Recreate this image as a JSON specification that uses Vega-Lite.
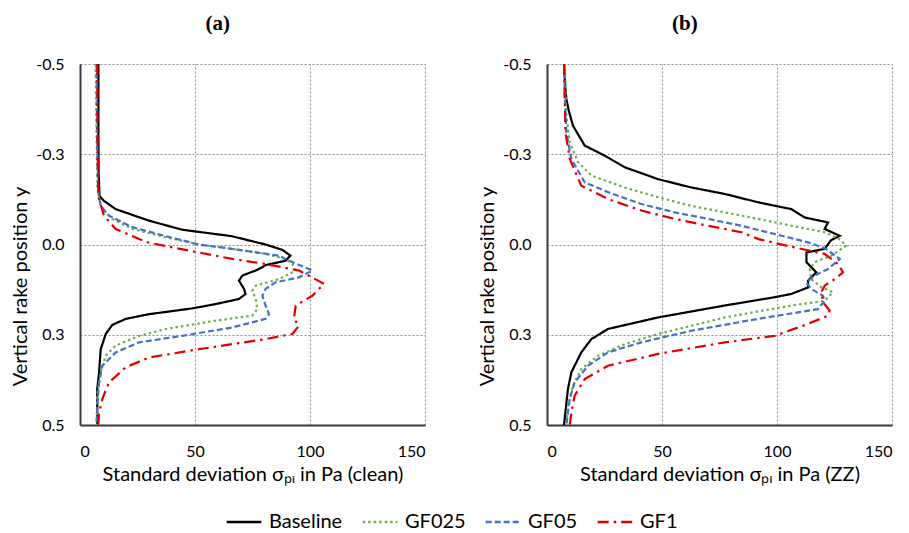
{
  "$schema": "https://vega.github.io/schema/vega-lite/v6.json",
  "padding": {"left": 10, "top": 13, "right": 5, "bottom": 5},
  "datasets": {
    "d": [
      {"p":"a","s":"Baseline","y":-0.5,"v":8},{"p":"a","s":"Baseline","y":-0.3,"v":8},{"p":"a","s":"Baseline","y":-0.2,"v":8.1},{"p":"a","s":"Baseline","y":-0.134,"v":8.5},{"p":"a","s":"Baseline","y":-0.121,"v":10.4},{"p":"a","s":"Baseline","y":-0.098,"v":15.5},{"p":"a","s":"Baseline","y":-0.066,"v":30},{"p":"a","s":"Baseline","y":-0.041,"v":44.4},{"p":"a","s":"Baseline","y":-0.023,"v":66},{"p":"a","s":"Baseline","y":0.0,"v":80.7},{"p":"a","s":"Baseline","y":0.015,"v":88},{"p":"a","s":"Baseline","y":0.031,"v":91.5},{"p":"a","s":"Baseline","y":0.045,"v":89.4},{"p":"a","s":"Baseline","y":0.057,"v":80.7},{"p":"a","s":"Baseline","y":0.063,"v":79.2},{"p":"a","s":"Baseline","y":0.072,"v":76.4},{"p":"a","s":"Baseline","y":0.086,"v":70.6},{"p":"a","s":"Baseline","y":0.1,"v":69.1},{"p":"a","s":"Baseline","y":0.123,"v":71.3},{"p":"a","s":"Baseline","y":0.137,"v":72},{"p":"a","s":"Baseline","y":0.151,"v":69.1},{"p":"a","s":"Baseline","y":0.165,"v":59},{"p":"a","s":"Baseline","y":0.177,"v":48.8},{"p":"a","s":"Baseline","y":0.193,"v":30},{"p":"a","s":"Baseline","y":0.206,"v":19.9},{"p":"a","s":"Baseline","y":0.223,"v":14},{"p":"a","s":"Baseline","y":0.248,"v":11.2},{"p":"a","s":"Baseline","y":0.29,"v":9},{"p":"a","s":"Baseline","y":0.354,"v":8.3},{"p":"a","s":"Baseline","y":0.4,"v":7.5},{"p":"a","s":"Baseline","y":0.5,"v":7.5},

      {"p":"a","s":"GF025","y":-0.5,"v":6.8},{"p":"a","s":"GF025","y":-0.3,"v":7.2},{"p":"a","s":"GF025","y":-0.16,"v":7.6},{"p":"a","s":"GF025","y":-0.126,"v":8.3},{"p":"a","s":"GF025","y":-0.098,"v":9.7},{"p":"a","s":"GF025","y":-0.071,"v":14},{"p":"a","s":"GF025","y":-0.043,"v":22.7},{"p":"a","s":"GF025","y":-0.02,"v":37.3},{"p":"a","s":"GF025","y":0.0,"v":51.7},{"p":"a","s":"GF025","y":0.012,"v":66.2},{"p":"a","s":"GF025","y":0.026,"v":80.7},{"p":"a","s":"GF025","y":0.04,"v":89.4},{"p":"a","s":"GF025","y":0.054,"v":92.3},{"p":"a","s":"GF025","y":0.072,"v":93.8},{"p":"a","s":"GF025","y":0.096,"v":86.5},{"p":"a","s":"GF025","y":0.114,"v":76.4},{"p":"a","s":"GF025","y":0.128,"v":74.9},{"p":"a","s":"GF025","y":0.151,"v":76.4},{"p":"a","s":"GF025","y":0.179,"v":77.1},{"p":"a","s":"GF025","y":0.197,"v":74.9},{"p":"a","s":"GF025","y":0.211,"v":59},{"p":"a","s":"GF025","y":0.234,"v":37.3},{"p":"a","s":"GF025","y":0.253,"v":25.7},{"p":"a","s":"GF025","y":0.28,"v":15.5},{"p":"a","s":"GF025","y":0.308,"v":11.2},{"p":"a","s":"GF025","y":0.354,"v":9},{"p":"a","s":"GF025","y":0.419,"v":7.5},{"p":"a","s":"GF025","y":0.5,"v":7.2},

      {"p":"a","s":"GF05","y":-0.5,"v":7.2},{"p":"a","s":"GF05","y":-0.3,"v":7.4},{"p":"a","s":"GF05","y":-0.15,"v":7.8},{"p":"a","s":"GF05","y":-0.107,"v":9},{"p":"a","s":"GF05","y":-0.08,"v":12.6},{"p":"a","s":"GF05","y":-0.048,"v":22.7},{"p":"a","s":"GF05","y":-0.023,"v":37.3},{"p":"a","s":"GF05","y":0.0,"v":51.7},{"p":"a","s":"GF05","y":0.012,"v":66},{"p":"a","s":"GF05","y":0.031,"v":86.5},{"p":"a","s":"GF05","y":0.045,"v":90.9},{"p":"a","s":"GF05","y":0.072,"v":101},{"p":"a","s":"GF05","y":0.091,"v":95.2},{"p":"a","s":"GF05","y":0.105,"v":85},{"p":"a","s":"GF05","y":0.123,"v":80.7},{"p":"a","s":"GF05","y":0.142,"v":79.3},{"p":"a","s":"GF05","y":0.169,"v":80.7},{"p":"a","s":"GF05","y":0.193,"v":82.2},{"p":"a","s":"GF05","y":0.206,"v":80.7},{"p":"a","s":"GF05","y":0.23,"v":66},{"p":"a","s":"GF05","y":0.253,"v":44.5},{"p":"a","s":"GF05","y":0.271,"v":25.7},{"p":"a","s":"GF05","y":0.299,"v":15.5},{"p":"a","s":"GF05","y":0.336,"v":9.7},{"p":"a","s":"GF05","y":0.382,"v":8.3},{"p":"a","s":"GF05","y":0.446,"v":7.5},{"p":"a","s":"GF05","y":0.5,"v":7.2},

      {"p":"a","s":"GF1","y":-0.5,"v":7.5},{"p":"a","s":"GF1","y":-0.3,"v":7.6},{"p":"a","s":"GF1","y":-0.16,"v":7.9},{"p":"a","s":"GF1","y":-0.126,"v":8.3},{"p":"a","s":"GF1","y":-0.08,"v":10.4},{"p":"a","s":"GF1","y":-0.043,"v":15.5},{"p":"a","s":"GF1","y":-0.015,"v":25.7},{"p":"a","s":"GF1","y":-0.005,"v":30},{"p":"a","s":"GF1","y":0.008,"v":40.1},{"p":"a","s":"GF1","y":0.04,"v":66.2},{"p":"a","s":"GF1","y":0.054,"v":80.7},{"p":"a","s":"GF1","y":0.072,"v":95.2},{"p":"a","s":"GF1","y":0.109,"v":106.1},{"p":"a","s":"GF1","y":0.142,"v":101},{"p":"a","s":"GF1","y":0.169,"v":93.8},{"p":"a","s":"GF1","y":0.206,"v":93},{"p":"a","s":"GF1","y":0.225,"v":95.2},{"p":"a","s":"GF1","y":0.248,"v":92.3},{"p":"a","s":"GF1","y":0.262,"v":80.7},{"p":"a","s":"GF1","y":0.29,"v":51.7},{"p":"a","s":"GF1","y":0.313,"v":30},{"p":"a","s":"GF1","y":0.34,"v":19.9},{"p":"a","s":"GF1","y":0.382,"v":12.6},{"p":"a","s":"GF1","y":0.428,"v":9.7},{"p":"a","s":"GF1","y":0.465,"v":8.3},{"p":"a","s":"GF1","y":0.5,"v":8},

      {"p":"b","s":"Baseline","y":-0.5,"v":7.4},{"p":"b","s":"Baseline","y":-0.45,"v":7.8},{"p":"b","s":"Baseline","y":-0.403,"v":8.4},{"p":"b","s":"Baseline","y":-0.37,"v":9.5},{"p":"b","s":"Baseline","y":-0.329,"v":11.3},{"p":"b","s":"Baseline","y":-0.274,"v":16.4},{"p":"b","s":"Baseline","y":-0.246,"v":25.1},{"p":"b","s":"Baseline","y":-0.214,"v":33.8},{"p":"b","s":"Baseline","y":-0.181,"v":48.3},{"p":"b","s":"Baseline","y":-0.158,"v":62.7},{"p":"b","s":"Baseline","y":-0.14,"v":77.3},{"p":"b","s":"Baseline","y":-0.117,"v":91.7},{"p":"b","s":"Baseline","y":-0.098,"v":106.2},{"p":"b","s":"Baseline","y":-0.075,"v":112},{"p":"b","s":"Baseline","y":-0.061,"v":122.2},{"p":"b","s":"Baseline","y":-0.043,"v":120.7},{"p":"b","s":"Baseline","y":-0.024,"v":127.3},{"p":"b","s":"Baseline","y":-0.012,"v":123.5},{"p":"b","s":"Baseline","y":0.012,"v":120.7},{"p":"b","s":"Baseline","y":0.022,"v":112.8},{"p":"b","s":"Baseline","y":0.049,"v":112.8},{"p":"b","s":"Baseline","y":0.063,"v":114.9},{"p":"b","s":"Baseline","y":0.077,"v":117.1},{"p":"b","s":"Baseline","y":0.1,"v":113.5},{"p":"b","s":"Baseline","y":0.119,"v":113.5},{"p":"b","s":"Baseline","y":0.137,"v":106.2},{"p":"b","s":"Baseline","y":0.146,"v":99},{"p":"b","s":"Baseline","y":0.169,"v":77.3},{"p":"b","s":"Baseline","y":0.202,"v":48.3},{"p":"b","s":"Baseline","y":0.234,"v":26.5},{"p":"b","s":"Baseline","y":0.262,"v":19.3},{"p":"b","s":"Baseline","y":0.299,"v":14.9},{"p":"b","s":"Baseline","y":0.354,"v":10.6},{"p":"b","s":"Baseline","y":0.4,"v":9.1},{"p":"b","s":"Baseline","y":0.5,"v":7.4},

      {"p":"b","s":"GF025","y":-0.5,"v":7.8},{"p":"b","s":"GF025","y":-0.42,"v":8.1},{"p":"b","s":"GF025","y":-0.357,"v":8.4},{"p":"b","s":"GF025","y":-0.283,"v":9.9},{"p":"b","s":"GF025","y":-0.228,"v":13.5},{"p":"b","s":"GF025","y":-0.191,"v":19.3},{"p":"b","s":"GF025","y":-0.158,"v":33.8},{"p":"b","s":"GF025","y":-0.131,"v":48.3},{"p":"b","s":"GF025","y":-0.107,"v":62.7},{"p":"b","s":"GF025","y":-0.089,"v":77.3},{"p":"b","s":"GF025","y":-0.071,"v":91.7},{"p":"b","s":"GF025","y":-0.052,"v":106.2},{"p":"b","s":"GF025","y":-0.034,"v":120.7},{"p":"b","s":"GF025","y":-0.015,"v":127},{"p":"b","s":"GF025","y":0.003,"v":130.1},{"p":"b","s":"GF025","y":0.031,"v":123.6},{"p":"b","s":"GF025","y":0.049,"v":116.4},{"p":"b","s":"GF025","y":0.068,"v":114.2},{"p":"b","s":"GF025","y":0.096,"v":114.9},{"p":"b","s":"GF025","y":0.119,"v":119.3},{"p":"b","s":"GF025","y":0.132,"v":124.3},{"p":"b","s":"GF025","y":0.156,"v":120.7},{"p":"b","s":"GF025","y":0.169,"v":106.2},{"p":"b","s":"GF025","y":0.202,"v":77.3},{"p":"b","s":"GF025","y":0.248,"v":48.3},{"p":"b","s":"GF025","y":0.276,"v":33.8},{"p":"b","s":"GF025","y":0.308,"v":22.2},{"p":"b","s":"GF025","y":0.345,"v":14.9},{"p":"b","s":"GF025","y":0.391,"v":11.3},{"p":"b","s":"GF025","y":0.446,"v":9.1},{"p":"b","s":"GF025","y":0.5,"v":8.4},

      {"p":"b","s":"GF05","y":-0.5,"v":7.4},{"p":"b","s":"GF05","y":-0.403,"v":7.8},{"p":"b","s":"GF05","y":-0.311,"v":8.4},{"p":"b","s":"GF05","y":-0.237,"v":10.6},{"p":"b","s":"GF05","y":-0.172,"v":16.4},{"p":"b","s":"GF05","y":-0.145,"v":26.5},{"p":"b","s":"GF05","y":-0.112,"v":41},{"p":"b","s":"GF05","y":-0.089,"v":55.5},{"p":"b","s":"GF05","y":-0.071,"v":70},{"p":"b","s":"GF05","y":-0.052,"v":84.5},{"p":"b","s":"GF05","y":-0.029,"v":99},{"p":"b","s":"GF05","y":-0.006,"v":113.5},{"p":"b","s":"GF05","y":0.01,"v":120.7},{"p":"b","s":"GF05","y":0.04,"v":127.3},{"p":"b","s":"GF05","y":0.068,"v":122.2},{"p":"b","s":"GF05","y":0.086,"v":116.4},{"p":"b","s":"GF05","y":0.105,"v":112.8},{"p":"b","s":"GF05","y":0.123,"v":114.9},{"p":"b","s":"GF05","y":0.142,"v":120},{"p":"b","s":"GF05","y":0.156,"v":120.7},{"p":"b","s":"GF05","y":0.179,"v":117.8},{"p":"b","s":"GF05","y":0.206,"v":91.7},{"p":"b","s":"GF05","y":0.239,"v":62.7},{"p":"b","s":"GF05","y":0.271,"v":41},{"p":"b","s":"GF05","y":0.299,"v":26.5},{"p":"b","s":"GF05","y":0.336,"v":17.8},{"p":"b","s":"GF05","y":0.382,"v":12},{"p":"b","s":"GF05","y":0.428,"v":9.9},{"p":"b","s":"GF05","y":0.5,"v":8.4},

      {"p":"b","s":"GF1","y":-0.5,"v":7.4},{"p":"b","s":"GF1","y":-0.311,"v":8},{"p":"b","s":"GF1","y":-0.237,"v":9.9},{"p":"b","s":"GF1","y":-0.163,"v":14.9},{"p":"b","s":"GF1","y":-0.126,"v":26.5},{"p":"b","s":"GF1","y":-0.094,"v":41},{"p":"b","s":"GF1","y":-0.071,"v":55.5},{"p":"b","s":"GF1","y":-0.052,"v":70},{"p":"b","s":"GF1","y":-0.034,"v":84.5},{"p":"b","s":"GF1","y":-0.015,"v":92},{"p":"b","s":"GF1","y":0.003,"v":104},{"p":"b","s":"GF1","y":0.026,"v":120.7},{"p":"b","s":"GF1","y":0.054,"v":126.5},{"p":"b","s":"GF1","y":0.077,"v":128.7},{"p":"b","s":"GF1","y":0.096,"v":125.1},{"p":"b","s":"GF1","y":0.114,"v":120.7},{"p":"b","s":"GF1","y":0.132,"v":119.3},{"p":"b","s":"GF1","y":0.16,"v":120},{"p":"b","s":"GF1","y":0.183,"v":122.9},{"p":"b","s":"GF1","y":0.197,"v":122.2},{"p":"b","s":"GF1","y":0.22,"v":113.5},{"p":"b","s":"GF1","y":0.253,"v":99},{"p":"b","s":"GF1","y":0.271,"v":77.3},{"p":"b","s":"GF1","y":0.303,"v":48.3},{"p":"b","s":"GF1","y":0.336,"v":26.5},{"p":"b","s":"GF1","y":0.373,"v":16.4},{"p":"b","s":"GF1","y":0.419,"v":12},{"p":"b","s":"GF1","y":0.465,"v":10.6},{"p":"b","s":"GF1","y":0.5,"v":9.9}
    ]
  },
  "data": {"name": "d"},
  "spacing": 52,
  "hconcat": [
    {
      "title": {"text": "(a)"},
      "width": 345,
      "height": 361,
      "transform": [{"filter": "datum.p == 'a'"}],
      "mark": {"type": "line", "strokeWidth": 2.2},
      "encoding": {
        "x": {"field": "v", "type": "quantitative", "scale": {"domain": [0, 150]}, "axis": {"values": [0, 50, 100, 150], "title": "Standard deviation σₚᵢ in Pa (clean)"}},
        "y": {"field": "y", "type": "quantitative", "scale": {"domain": [-0.5, 0.5], "reverse": true}, "axis": {"values": [-0.5, -0.25, 0, 0.25, 0.5], "labelExpr": "datum.value == -0.5 ? '-0.5' : datum.value == -0.25 ? '-0.3' : datum.value == 0 ? '0.0' : datum.value == 0.25 ? '0.3' : '0.5'", "title": "Vertical rake position y"}},
        "color": {"field": "s", "type": "nominal", "title": null, "scale": {"domain": ["Baseline", "GF025", "GF05", "GF1"], "range": ["#000000", "#70AD47", "#4472C4", "#E00000"]}},
        "strokeDash": {"field": "s", "type": "nominal", "title": null, "scale": {"domain": ["Baseline", "GF025", "GF05", "GF1"], "range": [[1, 0], [2.5, 3], [6, 3], [11, 5, 2.5, 5]]}},
        "order": {"field": "y", "type": "quantitative"}
      }
    },
    {
      "title": {"text": "(b)"},
      "width": 345,
      "height": 361,
      "transform": [{"filter": "datum.p == 'b'"}],
      "mark": {"type": "line", "strokeWidth": 2.2},
      "encoding": {
        "x": {"field": "v", "type": "quantitative", "scale": {"domain": [0, 150]}, "axis": {"values": [0, 50, 100, 150], "title": "Standard deviation σₚᵢ in Pa (ZZ)"}},
        "y": {"field": "y", "type": "quantitative", "scale": {"domain": [-0.5, 0.5], "reverse": true}, "axis": {"values": [-0.5, -0.25, 0, 0.25, 0.5], "labelExpr": "datum.value == -0.5 ? '-0.5' : datum.value == -0.25 ? '-0.3' : datum.value == 0 ? '0.0' : datum.value == 0.25 ? '0.3' : '0.5'", "title": "Vertical rake position y"}},
        "color": {"field": "s", "type": "nominal", "title": null, "scale": {"domain": ["Baseline", "GF025", "GF05", "GF1"], "range": ["#000000", "#70AD47", "#4472C4", "#E00000"]}},
        "strokeDash": {"field": "s", "type": "nominal", "title": null, "scale": {"domain": ["Baseline", "GF025", "GF05", "GF1"], "range": [[1, 0], [2.5, 3], [6, 3], [11, 5, 2.5, 5]]}},
        "order": {"field": "y", "type": "quantitative"}
      }
    }
  ],
  "resolve": {"legend": {"color": "shared", "strokeDash": "shared"}},
  "config": {
    "view": {"stroke": null},
    "font": "Lato",
    "title": {"font": "Liberation Serif", "fontSize": 21, "fontWeight": "bold", "frame": "bounds", "anchor": "middle", "offset": 22, "color": "#000"},
    "axis": {"grid": true, "gridColor": "#8c8c8c", "gridDash": [2, 2], "gridWidth": 1, "domainColor": "#3a3a3a", "domainWidth": 2, "ticks": false, "labelFont": "Lato", "labelFontSize": 16, "labelColor": "#000", "titleFont": "Lato", "titleFontSize": 20, "titleFontWeight": "normal", "titleColor": "#000"},
    "axisX": {"labelPadding": 18, "titlePadding": 5},
    "axisY": {"labelPadding": 16, "titlePadding": 5, "titleY": 222},
    "legend": {"orient": "bottom", "direction": "horizontal", "symbolType": "stroke", "symbolStrokeWidth": 2.5, "symbolSize": 1200, "labelFont": "Lato", "labelFontSize": 20, "labelColor": "#000", "columnPadding": 14, "labelOffset": 6, "offset": 19, "layout": {"bottom": {"anchor": "middle"}}}
  }
}
